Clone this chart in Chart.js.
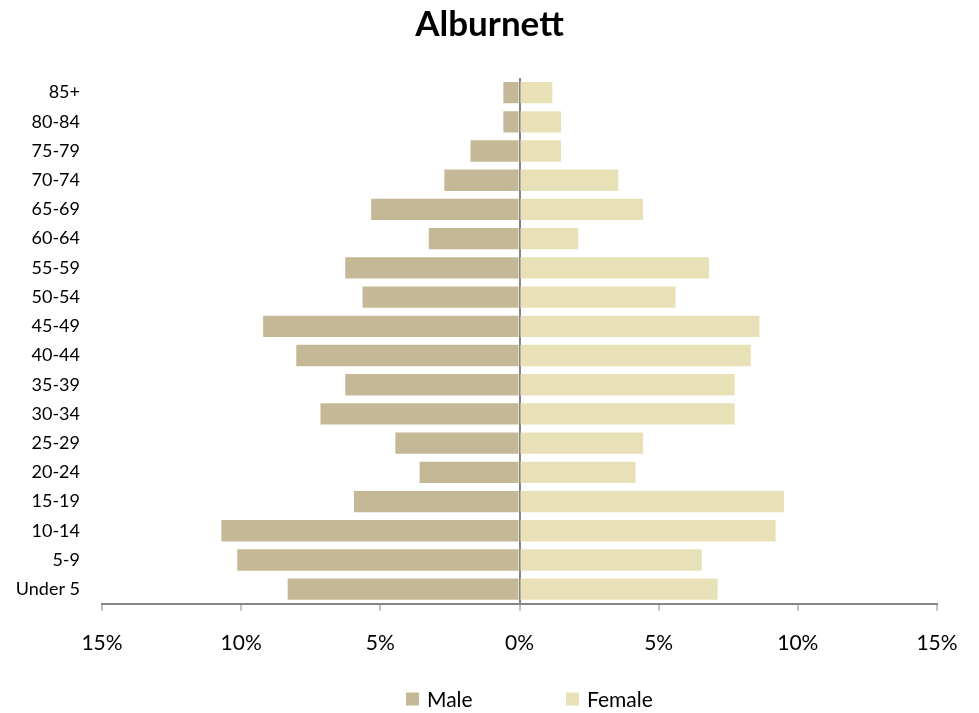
<!DOCTYPE html>
<html>
<head>
<meta charset="utf-8">
<title>Alburnett</title>
<script src="https://cdn.jsdelivr.net/npm/chart.js@4.4.1/dist/chart.umd.min.js"></script>
<style>
  html, body { margin: 0; padding: 0; background: #ffffff; }
  #wrap { width: 979px; height: 713px; }
</style>
</head>
<body>
<div id="wrap"><canvas id="c" width="979" height="713"></canvas></div>
<script>
// ---- Data (percent of population) ----
const ageGroups = ['85+', '80-84', '75-79', '70-74', '65-69', '60-64', '55-59', '50-54', '45-49',
                   '40-44', '35-39', '30-34', '25-29', '20-24', '15-19', '10-14', '5-9', 'Under 5'];
const malePct   = [0.58, 0.58, 1.76, 2.70, 5.33, 3.26, 6.26, 5.64, 9.21,
                   8.02, 6.26, 7.15, 4.46, 3.59, 5.95, 10.71, 10.14, 8.33];
const femalePct = [1.18, 1.49, 1.49, 3.55, 4.44, 2.11, 6.81, 5.61, 8.62,
                   8.31, 7.73, 7.73, 4.44, 4.17, 9.50, 9.20, 6.55, 7.12];
const seriesNames = ['Male', 'Female'];
const xTickValues = [-15, -10, -5, 0, 5, 10, 15];
const chartTitle = 'Alburnett';

const FONT = 'Lato, Carlito, Calibri, "Open Sans", sans-serif';
const MALE_COLOR = '#c4b896';
const FEMALE_COLOR = '#e8e1b7';
const AXIS_COLOR = '#868686';

const pyramidLegend = {
  id: 'pyramidLegend',
  afterDraw(chart) {
    const { ctx, chartArea } = chart;
    const cx = (chartArea.left + chartArea.right) / 2;
    const y = 699;
    const offsets = [-113.5, 46.5];
    ctx.save();
    ctx.font = '21px ' + FONT;
    ctx.textBaseline = 'middle';
    ctx.textAlign = 'left';
    chart.data.datasets.forEach((ds, i) => {
      const x = cx + offsets[i];
      ctx.fillStyle = ds.backgroundColor;
      ctx.fillRect(x, y - 6.5, 13, 13);
      ctx.fillStyle = '#000000';
      ctx.fillText(ds.label, x + 21, y + 1);
    });
    ctx.restore();
  }
};

new Chart(document.getElementById('c'), {
  type: 'bar',
  data: {
    labels: ageGroups,
    datasets: [
      { label: seriesNames[0], data: malePct.map(v => -v), backgroundColor: MALE_COLOR,
        barPercentage: 0.73, categoryPercentage: 1.0 },
      { label: seriesNames[1], data: femalePct, backgroundColor: FEMALE_COLOR,
        barPercentage: 0.73, categoryPercentage: 1.0 }
    ]
  },
  options: {
    indexAxis: 'y',
    responsive: false,
    animation: false,
    layout: { padding: { left: 0, right: 0, top: 0, bottom: 37 } },
    plugins: {
      legend: { display: false },
      tooltip: { enabled: false },
      title: {
        display: true,
        text: chartTitle,
        color: '#000000',
        font: { family: FONT, size: 35, weight: 'bold' },
        padding: { top: 4, bottom: 32 }
      }
    },
    scales: {
      x: {
        type: 'linear',
        stacked: true,
        min: -15,
        max: 15,
        afterBuildTicks(scale) { scale.ticks = xTickValues.map(v => ({ value: v })); },
        ticks: {
          color: '#000000',
          font: { family: FONT, size: 21 },
          padding: 20,
          maxRotation: 0,
          callback: v => Math.abs(v) + '%'
        },
        grid: {
          drawOnChartArea: true,
          color: c => (c.tick && c.tick.value === 0) ? AXIS_COLOR : 'rgba(0,0,0,0)',
          lineWidth: 2,
          tickColor: AXIS_COLOR,
          tickLength: 7,
          tickWidth: 1
        },
        border: { display: true, color: AXIS_COLOR, width: 2 }
      },
      y: {
        stacked: true,
        afterFit(scale) { scale.width = 102; },
        ticks: {
          color: '#000000',
          font: { family: FONT, size: 18 },
          padding: 22,
          autoSkip: false
        },
        grid: { display: false, drawTicks: false },
        border: { display: false }
      },
      yRightMargin: {
        type: 'category',
        axis: 'y',
        position: 'right',
        afterFit(scale) { scale.width = 42; },
        ticks: { display: false },
        grid: { display: false, drawTicks: false },
        border: { display: false }
      }
    }
  },
  plugins: [pyramidLegend]
});
</script>
</body>
</html>
